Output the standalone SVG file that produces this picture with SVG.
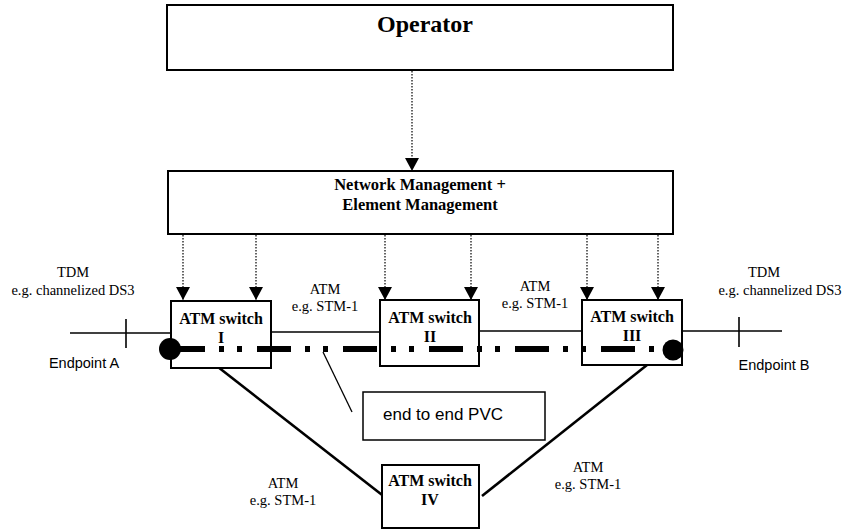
<svg xmlns="http://www.w3.org/2000/svg" width="849" height="530" viewBox="0 0 849 530">
<defs>
<style>
.box{fill:#fff;stroke:#000;stroke-width:2}
.thin{fill:#fff;stroke:#000;stroke-width:1.5}
.bt{font-family:"Liberation Serif","Times New Roman",serif;font-weight:bold;fill:#000;text-anchor:middle}
.lt{font-family:"Liberation Serif","Times New Roman",serif;font-size:14.5px;fill:#000;text-anchor:middle}
.st{font-family:"Liberation Sans",Arial,sans-serif;fill:#000;text-anchor:middle}
.dot{fill:none;stroke:#000;stroke-width:1.2;stroke-dasharray:1.5 1.5}
.ln{fill:none;stroke:#000;stroke-width:1.6}
.diag{fill:none;stroke:#000;stroke-width:2.6}
.pvc{fill:none;stroke:#000;stroke-width:6;stroke-dasharray:34 14 5 13 5 15}
</style>
<marker id="ah" markerUnits="userSpaceOnUse" markerWidth="14" markerHeight="14" viewBox="0 0 13 14" refX="13" refY="7" orient="auto">
<path d="M0,0 L13,7 L0,14 z" fill="#000"/>
</marker>
</defs>

<g id="connectors">
<line class="dot" x1="412" y1="71" x2="412" y2="171" marker-end="url(#ah)"/>
<line class="dot" x1="183" y1="235" x2="183" y2="300" marker-end="url(#ah)"/>
<line class="dot" x1="256" y1="235" x2="256" y2="300" marker-end="url(#ah)"/>
<line class="dot" x1="385" y1="235" x2="385" y2="300" marker-end="url(#ah)"/>
<line class="dot" x1="471" y1="235" x2="471" y2="300" marker-end="url(#ah)"/>
<line class="dot" x1="587" y1="235" x2="587" y2="300" marker-end="url(#ah)"/>
<line class="dot" x1="658" y1="235" x2="658" y2="300" marker-end="url(#ah)"/>
<line class="ln" x1="70" y1="333" x2="171" y2="333"/>
<line class="ln" x1="126" y1="319" x2="126" y2="348"/>
<line class="ln" x1="271" y1="332" x2="380" y2="332"/>
<line class="ln" x1="479" y1="331" x2="582" y2="331"/>
<line class="ln" x1="682" y1="331" x2="782" y2="331"/>
<line class="ln" x1="739" y1="317" x2="739" y2="347"/>
<line class="diag" x1="218" y1="367" x2="386" y2="498"/>
<line class="diag" x1="482" y1="496" x2="647" y2="365"/>
</g>

<g id="operator">
<rect class="box" x="167" y="5" width="506" height="65"/>
<text class="bt" x="425" y="32" font-size="24">Operator</text>
</g>

<g id="nm">
<rect class="box" x="168" y="171" width="505" height="63"/>
<text class="bt" x="420" y="190" font-size="16.5">Network Management +</text>
<text class="bt" x="420" y="210" font-size="16.5">Element Management</text>
</g>

<g id="switch1">
<rect class="box" x="171" y="301" width="100" height="67"/>
<text class="bt" x="221" y="324" font-size="16">ATM switch</text>
<text class="bt" x="221" y="343" font-size="16">I</text>
</g>
<g id="switch2">
<rect class="box" x="380" y="300" width="99" height="66"/>
<text class="bt" x="430" y="323" font-size="16">ATM switch</text>
<text class="bt" x="430" y="342" font-size="16">II</text>
</g>
<g id="switch3">
<rect class="box" x="582" y="300" width="100" height="65"/>
<text class="bt" x="632" y="322" font-size="16">ATM switch</text>
<text class="bt" x="632" y="341" font-size="16">III</text>
</g>
<g id="switch4">
<rect class="box" x="382" y="465" width="97" height="63"/>
<text class="bt" x="430" y="486" font-size="16">ATM switch</text>
<text class="bt" x="430" y="505" font-size="16">IV</text>
</g>

<g id="pvc-path">
<line class="pvc" x1="171" y1="349" x2="672" y2="349"/>
<circle cx="170" cy="349" r="11" fill="#000"/>
<circle cx="673" cy="350" r="10.5" fill="#000"/>
<line x1="323" y1="352" x2="352" y2="412" stroke="#000" stroke-width="1.3"/>
</g>

<g id="pvc-label">
<rect class="thin" x="363" y="392" width="182" height="48"/>
<text class="st" x="443" y="420" font-size="17">end to end PVC</text>
</g>

<g id="labels">
<text class="lt" x="73" y="277">TDM</text>
<text class="lt" x="73" y="295">e.g. channelized DS3</text>
<text class="lt" x="764" y="277">TDM</text>
<text class="lt" x="780" y="295">e.g. channelized DS3</text>
<text class="lt" x="325" y="294">ATM</text>
<text class="lt" x="325" y="311">e.g. STM-1</text>
<text class="lt" x="535" y="291">ATM</text>
<text class="lt" x="535" y="308">e.g. STM-1</text>
<text class="lt" x="283" y="488">ATM</text>
<text class="lt" x="283" y="505">e.g. STM-1</text>
<text class="lt" x="588" y="472">ATM</text>
<text class="lt" x="588" y="489">e.g. STM-1</text>
<text class="st" x="84" y="368" font-size="14.5">Endpoint A</text>
<text class="st" x="774" y="370" font-size="14.5">Endpoint B</text>
</g>
</svg>
